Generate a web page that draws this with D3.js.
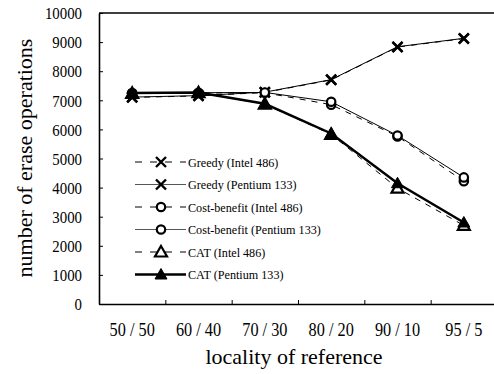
<!DOCTYPE html>
<html>
<head>
<meta charset="utf-8">
<script src="https://cdn.jsdelivr.net/npm/d3@7"></script>
<style>
  html, body { margin: 0; padding: 0; background: #fff; }
  svg { display: block; }
  svg text { font-family: 'Liberation Serif', 'DejaVu Serif', serif !important; fill: #000; }
</style>
</head>
<body>
<svg id="chart" width="494" height="374"></svg>
<script>
// Locality of reference (hot / cold split)
const categories = ["50 / 50", "60 / 40", "70 / 30", "80 / 20", "90 / 10", "95 / 5"];

// Number of erase operations per policy and platform
const greedyIntel   = [7100, 7150, 7270, 7700, 8830, 9120];
const greedyPentium = [7110, 7160, 7280, 7710, 8840, 9130];
const costIntel     = [7240, 7250, 7260, 6850, 5760, 4220];
const costPentium   = [7250, 7260, 7270, 6950, 5790, 4350];
const catIntel      = [7240, 7260, 6870, 5830, 3980, 2700];
const catPentium    = [7250, 7270, 6880, 5860, 4150, 2800];

const yTicks = [0, 1000, 2000, 3000, 4000, 5000, 6000, 7000, 8000, 9000, 10000];

const series = [
  { name: "Greedy (Intel 486)",       values: greedyIntel,   marker: "x",   dash: "6,6", width: 1 },
  { name: "Greedy (Pentium 133)",     values: greedyPentium, marker: "x",   dash: null,  width: 1 },
  { name: "Cost-benefit (Intel 486)", values: costIntel,     marker: "o",   dash: "6,6", width: 1 },
  { name: "Cost-benefit (Pentium 133)", values: costPentium, marker: "o",   dash: null,  width: 1 },
  { name: "CAT (Intel 486)",          values: catIntel,      marker: "tri", dash: "6,6", width: 1 },
  { name: "CAT (Pentium 133)",        values: catPentium,    marker: "triF", dash: null, width: 2.5 }
];

const FONT = "'Liberation Serif', 'DejaVu Serif', serif";
const svg = d3.select("#chart");
const plotLeft = 99, plotRight = 497, plotTop = 13, plotBottom = 304;

const x = d3.scaleBand().domain(categories).range([plotLeft, plotRight]).paddingInner(0).paddingOuter(0);
const xBound = d3.scaleLinear().domain([0, categories.length]).range([plotLeft, plotRight]);
const y = d3.scaleLinear().domain([0, 10000]).range([plotBottom, plotTop]);

// Frame: top border
svg.append("line")
  .attr("x1", plotLeft).attr("x2", 494).attr("y1", plotTop).attr("y2", plotTop)
  .attr("stroke", "#000").attr("stroke-width", 1.6);

// Y axis with inward ticks
const yAxis = svg.append("g")
  .attr("transform", `translate(${plotLeft},0)`)
  .call(d3.axisLeft(y).tickValues(yTicks).tickSize(-4).tickSizeOuter(0).tickFormat(d3.format("d")))
  .attr("font-family", FONT);
yAxis.select(".domain").attr("stroke", "#000").attr("stroke-width", 1.6);
yAxis.selectAll(".tick line").attr("stroke", "#000").attr("stroke-width", 1);
yAxis.selectAll(".tick text")
  .attr("x", 0).attr("dy", "0.35em")
  .attr("text-anchor", "end")
  .attr("transform", "translate(-17,0) scale(0.9,1)")
  .attr("font-family", FONT)
  .style("font-size", "16.5px");

// X axis: inward ticks at category boundaries
const xTickAxis = svg.append("g")
  .attr("transform", `translate(0,${plotBottom})`)
  .call(d3.axisBottom(xBound).tickValues(d3.range(1, categories.length)).tickSize(-4).tickSizeOuter(0).tickFormat(""));
xTickAxis.select(".domain").attr("stroke", "#000").attr("stroke-width", 1.6);
xTickAxis.selectAll(".tick line").attr("stroke", "#000").attr("stroke-width", 1);

// X axis: category labels
const xLabelAxis = svg.append("g")
  .attr("transform", `translate(0,${plotBottom})`)
  .call(d3.axisBottom(x).tickSize(0).tickSizeOuter(0))
  .attr("font-family", FONT);
xLabelAxis.select(".domain").remove();
xLabelAxis.selectAll(".tick text")
  .attr("y", 0).attr("dy", 0)
  .attr("transform", "translate(0,32) scale(0.88,1)")
  .attr("font-family", FONT)
  .style("font-size", "18.5px");

// Axis titles
svg.append("text")
  .attr("transform", `translate(32,158) rotate(-90)`)
  .attr("text-anchor", "middle")
  .attr("font-family", FONT)
  .style("font-size", "22px")
  .text("number of erase operations");

svg.append("text")
  .attr("x", 294).attr("y", 364)
  .attr("text-anchor", "middle")
  .attr("font-family", FONT)
  .style("font-size", "22px")
  .text("locality of reference");

// Marker drawing
function drawMarker(g, type, cx, cy) {
  if (type === "x") {
    const s = 5;
    g.append("path")
      .attr("d", `M${cx - s},${cy - s}L${cx + s},${cy + s}M${cx - s},${cy + s}L${cx + s},${cy - s}`)
      .attr("stroke", "#000").attr("stroke-width", 2.4).attr("fill", "none");
  } else if (type === "o") {
    g.append("circle").attr("cx", cx).attr("cy", cy).attr("r", 4.2)
      .attr("fill", "#fff").attr("stroke", "#000").attr("stroke-width", 2.2);
  } else {
    const s = 6;
    const filled = type === "triF";
    g.append("path")
      .attr("d", `M${cx},${cy - s}L${cx + s},${cy + s * 0.75}L${cx - s},${cy + s * 0.75}Z`)
      .attr("fill", filled ? "#000" : "#fff")
      .attr("stroke", "#000").attr("stroke-width", filled ? 1 : 2.2)
      .attr("stroke-linejoin", "miter");
  }
}

const line = d3.line()
  .x((d, i) => x(categories[i]) + x.bandwidth() / 2)
  .y(d => y(d));

const plot = svg.append("g");
series.forEach(s => {
  plot.append("path")
    .datum(s.values)
    .attr("d", line)
    .attr("fill", "none")
    .attr("stroke", "#000")
    .attr("stroke-width", s.width)
    .attr("stroke-dasharray", s.dash);
});
series.forEach(s => {
  const g = plot.append("g");
  s.values.forEach((v, i) => drawMarker(g, s.marker, x(categories[i]) + x.bandwidth() / 2, y(v)));
});

// Legend
const legend = svg.append("g");
const legY0 = 162, legStep = 22.5, lx0 = 135, lx1 = 186, lmx = 161;
series.forEach((s, i) => {
  const ly = legY0 + i * legStep;
  legend.append("line")
    .attr("x1", lx0).attr("x2", lx1).attr("y1", ly).attr("y2", ly)
    .attr("stroke", s.dash ? "#000" : (s.width > 1 ? "#000" : "#555"))
    .attr("stroke-width", s.width)
    .attr("stroke-dasharray", s.dash ? "7,8" : null);
  drawMarker(legend, s.marker, lmx, ly);
  legend.append("text")
    .attr("transform", `translate(188,${ly}) scale(0.9,1)`)
    .attr("dy", "0.35em")
    .attr("font-family", FONT)
    .style("font-size", "13.5px")
    .text(s.name);
});
</script>
</body>
</html>
